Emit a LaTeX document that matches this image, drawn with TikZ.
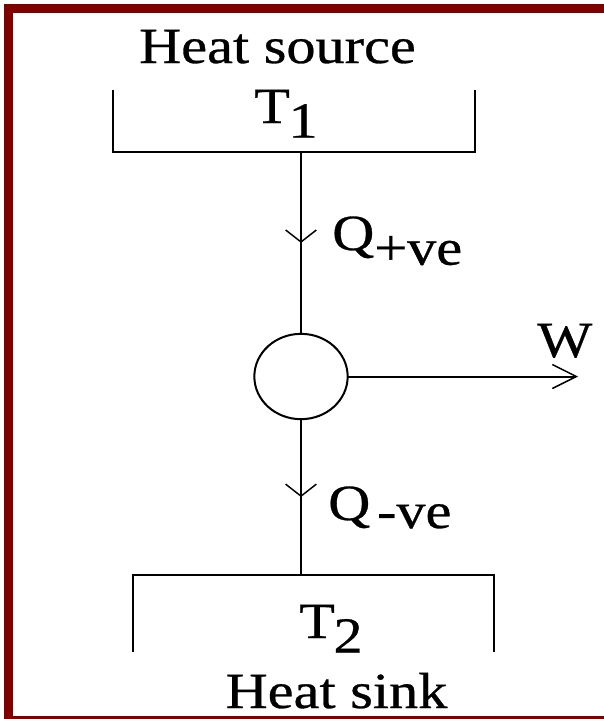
\documentclass[tikz,border=0pt]{standalone}
\usepackage{fontspec}
\setmainfont{Liberation Serif}[FakeStretch=1.15, FakeBold=0.6]
\usepackage{tikz}
\usetikzlibrary{arrows.meta, decorations.markings, shapes.geometric}
\definecolor{slidered}{RGB}{128,0,0}
\tikzset{
  txt/.style={font=\fontsize{38}{40}\selectfont, inner sep=0pt},
  bracket/.style={line width=1.5pt, color=black},
  flow/.style={line width=1.5pt, postaction={decorate}, decoration={markings, mark=at position 0.5 with {\arrow{Straight Barb[length=9pt, width=23pt, line width=1.1pt]}}}},
  work/.style={line width=1.5pt, -{Straight Barb[length=18pt, width=18pt, line width=1.1pt]}},
  engine/.style={ellipse, draw, line width=1.5pt, minimum width=70pt, minimum height=64pt, inner sep=0pt, outer sep=0pt}
}
\begin{document}
\begin{tikzpicture}[x=0.75pt, y=-0.75pt]
  \useasboundingbox (0,0) rectangle (604,719);
  % Slide frame (right side cut off)
  \fill[slidered] (4,4) rectangle (604,13);
  \fill[slidered] (4,4) rectangle (13,719);
  \fill[slidered] (4,716) rectangle (604,719);

  % Source and sink reservoirs
  \draw[bracket] (113,90) -- (113,152) -- (475,152) -- (475,90);
  \draw[bracket] (133,652) -- (133,575) -- (494,575) -- (494,652);
  \coordinate (src) at (301,152);
  \coordinate (snk) at (301,575);

  % Engine and heat flows
  \node[engine] (eng) at (301,376.5) {};
  \coordinate (wend) at (578,376.5);
  \draw[flow] (src) -- (eng.north);
  \draw[flow] (eng.south) -- (snk);
  \draw[work] (eng.east) -- (wend);

  % Labels
  \node[txt, anchor=base] (srcname) at (277.5,63) {Heat source};
  \node[txt, anchor=base west] (tone) at (254,123) {T\kern-1pt\raisebox{-11pt}{1}};
  \node[txt, anchor=base west] (qin) at (332,250) {Q\raisebox{-11pt}{+ve}};
  \node[txt, anchor=base west] (wlbl) at (537,357) {W};
  \node[txt, anchor=base west] (qout) at (328,520) {Q\kern5pt\raisebox{-6pt}{-ve}};
  \node[txt, anchor=base west] (ttwo) at (299,638) {T\kern-1pt\raisebox{-11pt}{2}};
  \node[txt, anchor=base] (snkname) at (336.5,708) {Heat sink};
\end{tikzpicture}
\end{document}
